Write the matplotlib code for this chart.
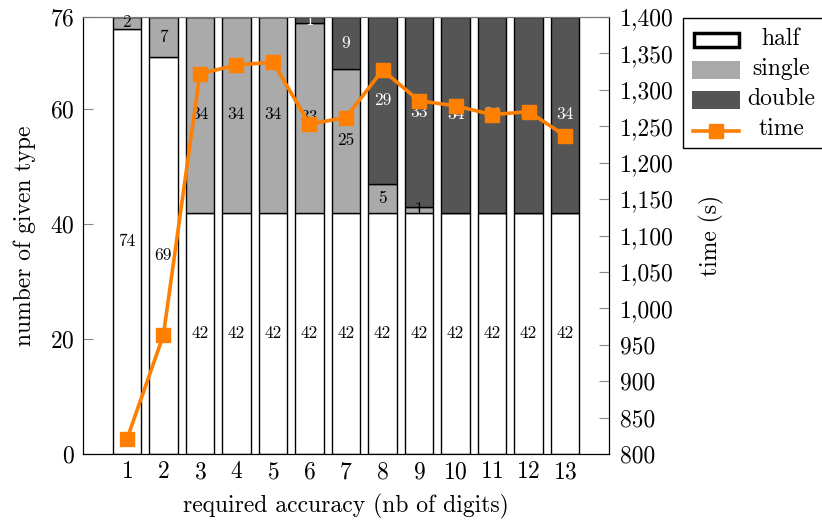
import matplotlib
matplotlib.use("Agg")
import matplotlib.pyplot as plt
import numpy as np
from matplotlib.ticker import FuncFormatter
from matplotlib.patches import Rectangle
from matplotlib.lines import Line2D

plt.rcParams['font.family'] = ['cmr10', 'DejaVu Serif']
plt.rcParams['axes.formatter.use_mathtext'] = True

digits = list(range(1, 14))
half = [74, 69, 42, 42, 42, 42, 42, 42, 42, 42, 42, 42, 42]
single = [2, 7, 34, 34, 34, 33, 25, 5, 1, 0, 0, 0, 0]
double = [0, 0, 0, 0, 0, 1, 9, 29, 33, 34, 34, 34, 34]
time_s = [820, 963, 1322, 1334, 1338, 1253, 1262, 1327, 1285, 1278, 1266, 1270, 1237]
legend_labels = ['half', 'single', 'double', 'time']

c_single = '#aaaaaa'
c_double = '#555555'
c_time = '#ff7f00'

W, H = 822, 523
fig = plt.figure(figsize=(W / 100, H / 100), dpi=100)
ax = fig.add_axes([83 / W, 1 - 454 / H, 526 / W, 437 / H])

x = np.array(digits)
w = 0.78
half_a = np.array(half)
single_a = np.array(single)
double_a = np.array(double)
ax.bar(x, half_a, w, color='white', edgecolor='black', linewidth=1.0, zorder=2)
ax.bar(x, single_a, w, bottom=half_a, color=c_single, edgecolor='black', linewidth=1.0, zorder=2)
ax.bar(x, double_a, w, bottom=half_a + single_a, color=c_double, edgecolor='black', linewidth=1.0, zorder=2)

fs = 12.5
for xi, h, s, d in zip(x, half_a, single_a, double_a):
    if h > 0:
        ax.text(xi, h / 2, str(h), ha='center', va='center', fontsize=fs, color='black', zorder=3)
    if s > 0:
        ax.text(xi, h + s / 2, str(s), ha='center', va='center', fontsize=fs, color='black', zorder=3)
    if d > 0:
        ax.text(xi, h + s + d / 2, str(d), ha='center', va='center', fontsize=fs, color='white', zorder=3)

big = 17
ax.set_xlim(-0.2, 14.2)
ax.set_ylim(0, 76)
ax.set_yticks([0, 20, 40, 60, 76])
ax.set_xticks(digits)
ax.tick_params(axis='y', direction='in', labelsize=big, length=7, color='#888888', pad=6)
ax.tick_params(axis='x', length=0, pad=5, labelsize=big)
ax.set_xlabel('required accuracy (nb of digits)', fontsize=big, labelpad=8)
ax.set_ylabel('number of given type', fontsize=big, labelpad=10)
for sp in ax.spines.values():
    sp.set_color('black')
ax.spines['top'].set_color('#777777')

ax2 = ax.twinx()
ax2.plot(x, time_s, color=c_time, linewidth=2.6, marker='s', markersize=10, zorder=5)
ax2.set_ylim(800, 1400)
ax2.set_yticks(np.arange(800, 1401, 50))
ax2.yaxis.set_major_formatter(FuncFormatter(lambda v, p: f'{int(v):,}'))
ax2.tick_params(axis='y', direction='in', labelsize=big, length=7, color='#888888', pad=8)
ax2.set_ylabel('time (s)', fontsize=big, labelpad=18)
for sp in ax2.spines.values():
    sp.set_color('black')
ax2.spines['top'].set_color('#777777')

# manual legend (pgfplots style, text centred, frame running off the right edge)
def fx(px):
    return px / W

def fy(py):
    return 1 - py / H

tf = fig.transFigure
fig.add_artist(Rectangle((fx(683), fy(148)), fx(160), 130 / H, transform=tf,
                         facecolor='white', edgecolor='black', linewidth=1.0, zorder=10))
hx0, hx1 = 692, 740
fig.add_artist(Rectangle((fx(hx0 + 1.5), fy(47)), fx(hx1 - hx0 - 3), 14 / H, transform=tf,
                         facecolor='white', edgecolor='black', linewidth=2.5, zorder=11))
fig.add_artist(Rectangle((fx(hx0), fy(79)), fx(hx1 - hx0), 18 / H, transform=tf,
                         facecolor=c_single, edgecolor='none', zorder=11))
fig.add_artist(Rectangle((fx(hx0), fy(109)), fx(hx1 - hx0), 18 / H, transform=tf,
                         facecolor=c_double, edgecolor='none', zorder=11))
fig.add_artist(Line2D([fx(hx0 + 1), fx(hx1 - 1)], [fy(131), fy(131)], transform=tf,
                      color=c_time, linewidth=2.6, zorder=11))
fig.add_artist(Line2D([fx((hx0 + hx1) / 2)], [fy(131)], transform=tf, color=c_time,
                      marker='s', markersize=10, linestyle='none', zorder=12))
for lab, yy in zip(legend_labels, [39, 69, 99, 129]):
    fig.text(fx(781), fy(yy), lab, ha='center', va='center', fontsize=big, zorder=12)

fig.savefig('out.png', dpi=100)
